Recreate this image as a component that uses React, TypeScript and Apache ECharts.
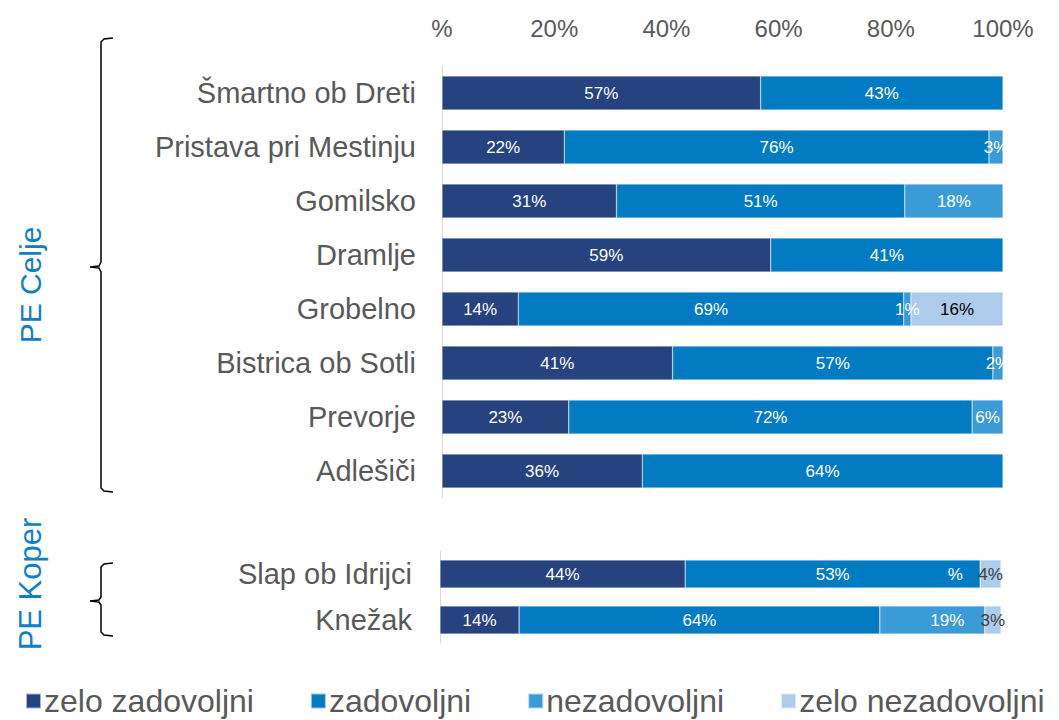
import React, { useEffect, useRef } from "react";
import * as echarts from "echarts";

const seriesNames = ["zelo zadovoljni", "zadovoljni", "nezadovoljni", "zelo nezadovoljni"];
const colors = ["#26427f", "#027bc3", "#3b9bd6", "#adcbea"];

const celjeCategories = [
  "Šmartno ob Dreti",
  "Pristava pri Mestinju",
  "Gomilsko",
  "Dramlje",
  "Grobelno",
  "Bistrica ob Sotli",
  "Prevorje",
  "Adlešiči",
];
const celjeZeloZadovoljni = [56.8, 21.8, 31.1, 58.6, 13.6, 41.1, 22.6, 35.7];
const celjeZadovoljni = [43.2, 75.7, 51.4, 41.4, 68.7, 57.1, 71.9, 64.3];
const celjeNezadovoljni = [null, 2.5, 17.5, null, 1.3, 1.8, 5.5, null];
const celjeZeloNezadovoljni = [null, null, null, null, 16.4, null, null, null];

const koperCategories = ["Slap ob Idrijci", "Knežak"];
const koperZeloZadovoljni = [43.7, 14.1];
const koperZadovoljni = [52.6, 64.3];
const koperNezadovoljni = [0, 18.7];
const koperZeloNezadovoljni = [3.7, 2.9];

const xTicks = [0, 20, 40, 60, 80, 100];

const fmt = (v: any) => {
  if (v == null || v === "-") return "";
  const r = Math.round(Number(v));
  return r === 0 ? "%" : r + "%";
};

export default function App() {
  const ref = useRef<HTMLDivElement>(null);
  useEffect(() => {
    if (!ref.current) return;
    const chart = echarts.init(ref.current, null, { renderer: "svg" });
    const font = "'Liberation Sans', Arial, sans-serif";

    const celjeData = [celjeZeloZadovoljni, celjeZadovoljni, celjeNezadovoljni, celjeZeloNezadovoljni];
    const koperData = [koperZeloZadovoljni, koperZadovoljni, koperNezadovoljni, koperZeloNezadovoljni];
    const labelColorsCelje = ["#ffffff", "#ffffff", "#ffffff", "#000000"];
    const labelColorsKoper = ["#ffffff", "#ffffff", "#ffffff", "#404040"];
    // label offsets for a few crowded segments (series index, data index) -> offset
    const koperOffsets: Record<string, number[]> = { "2-0": [-25, 0], "2-1": [15, 0] };

    const series: any[] = [];
    celjeData.forEach((arr, si) => {
      series.push({
        name: seriesNames[si],
        type: "bar",
        stack: "celje",
        xAxisIndex: 0,
        yAxisIndex: 0,
        barWidth: 34,
        itemStyle: { color: colors[si], borderColor: "rgba(255,255,255,0.6)", borderWidth: 0.5 },
        label: {
          show: true,
          position: "inside",
          color: labelColorsCelje[si],
          fontSize: 17,
          fontFamily: font,
          formatter: (p: any) => fmt(p.value),
        },
        data: arr.map((v) => (v == null ? "-" : v)),
      });
    });
    koperData.forEach((arr, si) => {
      series.push({
        name: seriesNames[si],
        type: "bar",
        stack: "koper",
        xAxisIndex: 1,
        yAxisIndex: 1,
        barWidth: 28,
        itemStyle: { color: colors[si], borderColor: "rgba(255,255,255,0.6)", borderWidth: 0.5 },
        label: {
          show: true,
          position: "inside",
          color: labelColorsKoper[si],
          fontSize: 17,
          fontFamily: font,
          formatter: (p: any) => fmt(p.value),
        },
        data: arr.map((v, di) => {
          const off = koperOffsets[si + "-" + di];
          return off ? { value: v, label: { offset: off } } : v;
        }),
      });
    });

    const catLabel = { color: "#595959", fontSize: 29, fontFamily: font };

    chart.setOption({
      animation: false,
      textStyle: { fontFamily: font },
      grid: [
        { left: 442, right: 56, top: 66, height: 432 },
        { left: 440, right: 58, top: 551, height: 92 },
      ],
      xAxis: [
        {
          type: "value",
          gridIndex: 0,
          position: "top",
          min: xTicks[0],
          max: xTicks[xTicks.length - 1],
          interval: 20,
          axisLine: { show: false },
          axisTick: { show: false },
          splitLine: { show: false },
          axisLabel: {
            color: "#595959",
            fontSize: 24,
            fontFamily: font,
            margin: 26,
            formatter: (v: number) => fmt(v),
          },
        },
        {
          type: "value",
          gridIndex: 1,
          min: 0,
          max: 100,
          show: false,
        },
      ],
      yAxis: [
        {
          type: "category",
          gridIndex: 0,
          data: celjeCategories,
          inverse: true,
          axisLine: { show: true, lineStyle: { color: "#d9d9d9", width: 1 } },
          axisTick: { show: false },
          axisLabel: { ...catLabel, margin: 26 },
        },
        {
          type: "category",
          gridIndex: 1,
          data: koperCategories,
          inverse: true,
          axisLine: { show: true, lineStyle: { color: "#d9d9d9", width: 1 } },
          axisTick: { show: false },
          axisLabel: { ...catLabel, margin: 28 },
        },
      ],
      legend: {
        data: seriesNames,
        left: 20,
        top: 680,
        icon: "rect",
        itemWidth: 15,
        itemHeight: 15,
        itemGap: 56,
        textStyle: { color: "#595959", fontSize: 32, fontFamily: font, padding: [0, 0, 0, -2] },
      },
      graphic: [
        {
          type: "polyline",
          shape: {
            points: [
              [113, 38], [104, 39], [101, 42], [101, 262], [99, 266], [90, 267],
              [99, 268], [101, 272], [101, 488], [104, 491], [113, 492],
            ],
          },
          style: { stroke: "#000", lineWidth: 1.5, fill: "none" },
        },
        {
          type: "polyline",
          shape: {
            points: [
              [113, 563], [104, 564], [101, 567], [101, 597], [99, 600], [90, 601],
              [99, 602], [101, 605], [101, 632], [104, 635], [113, 636],
            ],
          },
          style: { stroke: "#000", lineWidth: 1.5, fill: "none" },
        },
        {
          type: "text",
          x: 30,
          y: 285,
          rotation: Math.PI / 2,
          style: {
            text: "PE Celje",
            fill: "#0f80c8",
            fontSize: 30,
            fontFamily: font,
            align: "center",
            verticalAlign: "middle",
          },
        },
        {
          type: "text",
          x: 30,
          y: 584,
          rotation: Math.PI / 2,
          style: {
            text: "PE Koper",
            fill: "#0f80c8",
            fontSize: 31,
            fontFamily: font,
            align: "center",
            verticalAlign: "middle",
          },
        },
      ],
      series,
    });
    return () => chart.dispose();
  }, []);
  return (
    <div
      ref={ref}
      style={{ position: "fixed", left: 0, top: 0, width: 1059, height: 720, background: "#fff" }}
    />
  );
}
